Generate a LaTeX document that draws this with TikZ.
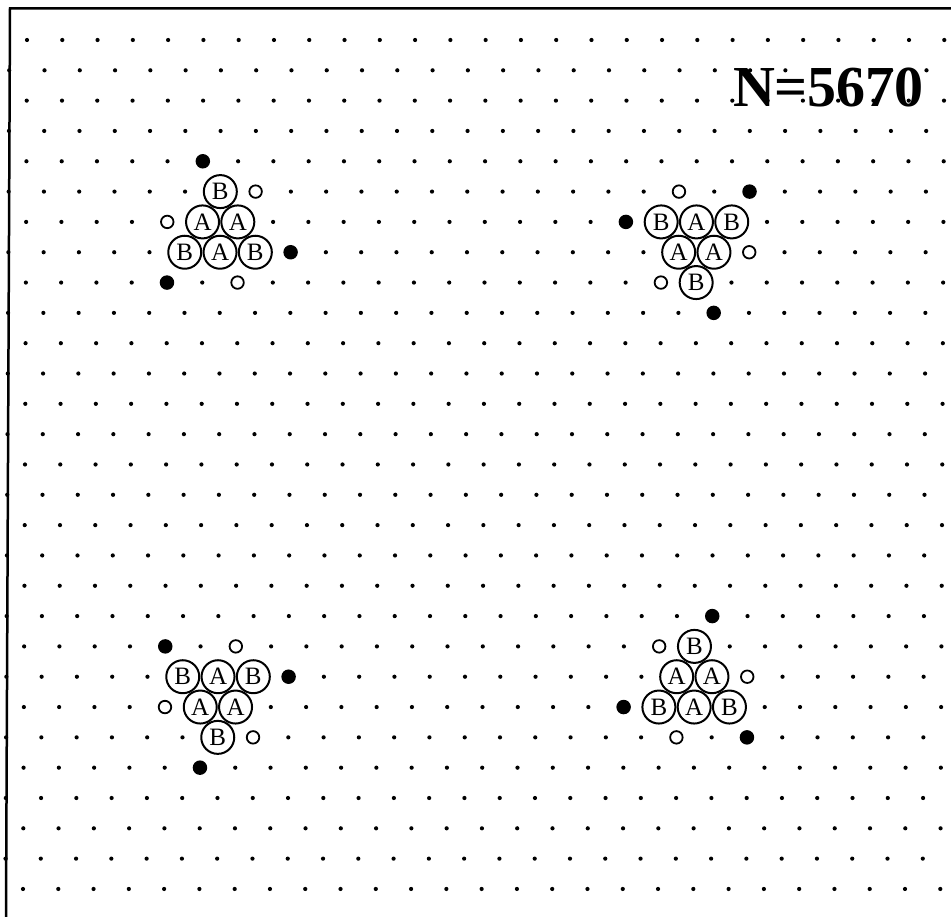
\documentclass[tikz,border=0pt]{standalone}
\usepackage{fontspec}
\setmainfont{Liberation Serif}
\begin{document}
\begin{tikzpicture}[x=1pt,y=-1pt,
  bigcirc/.style={circle,draw=black,line width=2pt,fill=white,minimum size=33pt,inner sep=0pt,font=\fontsize{25}{25}\selectfont},
  opendot/.style={circle,draw=black,line width=1.8pt,fill=white,minimum size=12.5pt,inner sep=0pt},
  fulldot/.style={circle,fill=black,minimum size=14.5pt,inner sep=0pt},
  latdot/.style={fill=black}]
\useasboundingbox (0,0) rectangle (951,917);
% frame
\draw[line width=2.5pt] (951,8.5) -- (10,8.5) -- (6,917);
% lattice dots
\foreach \k in {0,...,28}{
  \foreach \i in {0,...,26}{
    \fill[latdot] ({27-4*\k/28-17.64*mod(\k,2)+35.28*\i},{40+30.32*\k}) circle (2.1);
  }
}
% big circles
\foreach \i/\k/\l/\n in {
  6/5/B/ca1, 5/6/A/ca2, 6/6/A/ca3, 5/7/B/ca4, 6/7/A/ca5, 7/7/B/ca6,
  18/6/B/cb1, 19/6/A/cb2, 20/6/B/cb3, 19/7/A/cb4, 20/7/A/cb5, 19/8/B/cb6,
  5/21/B/cc1, 6/21/A/cc2, 7/21/B/cc3, 5/22/A/cc4, 6/22/A/cc5, 6/23/B/cc6,
  19/20/B/cd1, 19/21/A/cd2, 20/21/A/cd3, 18/22/B/cd4, 19/22/A/cd5, 20/22/B/cd6}{
  \node[bigcirc] (\n) at ({27-4*\k/28-17.64*mod(\k,2)+35.28*\i},{40+30.32*\k}) {\l};
}
% filled markers
\foreach \i/\k/\n in {
  5/4/fa1, 8/7/fa2, 4/8/fa3,
  21/5/fb1, 17/6/fb2, 20/9/fb3,
  4/20/fc1, 8/21/fc2, 5/24/fc3,
  20/19/fd1, 17/22/fd2, 21/23/fd3}{
  \node[fulldot] (\n) at ({27-4*\k/28-17.64*mod(\k,2)+35.28*\i},{40+30.32*\k}) {};
}
% open markers
\foreach \i/\k/\n in {
  7/5/oa1, 4/6/oa2, 6/8/oa3,
  19/5/ob1, 21/7/ob2, 18/8/ob3,
  6/20/oc1, 4/22/oc2, 7/23/oc3,
  18/20/od1, 21/21/od2, 19/23/od3}{
  \node[opendot] (\n) at ({27-4*\k/28-17.64*mod(\k,2)+35.28*\i},{40+30.32*\k}) {};
}
% label
\node[font=\fontsize{58}{58}\selectfont\bfseries,inner sep=0pt,anchor=base] (title) at (828.5,107) {N=5670};
\end{tikzpicture}
\end{document}
